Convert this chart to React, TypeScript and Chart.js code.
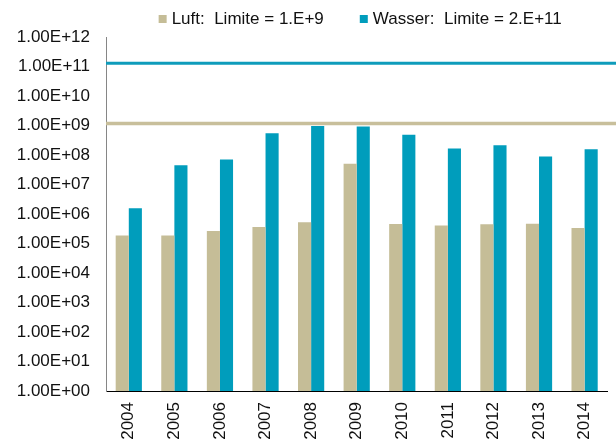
import React, { useEffect, useRef } from "react";
import { Chart, registerables } from "chart.js";

Chart.register(...registerables);

const YEARS = ["2004", "2005", "2006", "2007", "2008", "2009", "2010", "2011", "2012", "2013", "2014"];
const LUFT = [1.85e5, 1.85e5, 2.66e5, 3.63e5, 5.24e5, 5.04e7, 4.59e5, 4.08e5, 4.48e5, 4.7e5, 3.36e5];
const WASSER = [1.56e6, 4.45e7, 7.1e7, 5.5e8, 9.7e8, 9.3e8, 4.83e8, 1.67e8, 2.16e8, 8.97e7, 1.58e8];
const LIMIT_LUFT = 1.17e9;
const LIMIT_WASSER = 1.29e11;
const LABEL_LUFT = "Luft:  Limite = 1.E+9";
const LABEL_WASSER = "Wasser:  Limite = 2.E+11";
const Y_TICKS = [1, 1e1, 1e2, 1e3, 1e4, 1e5, 1e6, 1e7, 1e8, 1e9, 1e10, 1e11, 1e12];
const Y_TICK_LABELS = [
  "1.00E+00", "1.00E+01", "1.00E+02", "1.00E+03", "1.00E+04", "1.00E+05", "1.00E+06",
  "1.00E+07", "1.00E+08", "1.00E+09", "1.00E+10", "1.00E+11", "1.00E+12",
];

const TAN = "#C5BD97";
const TEAL = "#009DBC";
const TAN_LINE = "#C8BF9B";
const TEAL_LINE = "#0F9CBB";
const FONT = "'Liberation Sans', Arial, sans-serif";
const TEXT = "#111111";
const FONT_SIZE = 17;

const limitLines = {
  id: "limitLines",
  afterDatasetsDraw(chart: any) {
    const { ctx, chartArea, scales } = chart;
    const lines = [
      { v: LIMIT_LUFT, c: TAN_LINE, w: 3.5 },
      { v: LIMIT_WASSER, c: TEAL_LINE, w: 3 },
    ];
    ctx.save();
    lines.forEach((l) => {
      const y = scales.y.getPixelForValue(l.v);
      ctx.strokeStyle = l.c;
      ctx.lineWidth = l.w;
      ctx.beginPath();
      ctx.moveTo(chartArea.left, y);
      ctx.lineTo(chart.width, y);
      ctx.stroke();
    });
    ctx.restore();
  },
};

const customLegend = {
  id: "customLegend",
  afterDraw(chart: any) {
    const { ctx, chartArea } = chart;
    const box = 8;
    const gap = 5;
    const itemGap = 36;
    ctx.save();
    ctx.font = `${FONT_SIZE}px ${FONT}`;
    ctx.textBaseline = "middle";
    ctx.textAlign = "left";
    const items = chart.data.datasets.map((ds: any) => ({
      text: ds.label,
      color: ds.backgroundColor,
      w: box + gap + ctx.measureText(ds.label).width,
    }));
    const total = items.reduce((s: number, it: any) => s + it.w, 0) + itemGap * (items.length - 1);
    let x = (chartArea.left + chartArea.right) / 2 + 3.5 - total / 2;
    const y = 19;
    items.forEach((it: any) => {
      ctx.fillStyle = it.color;
      ctx.fillRect(x, y - box / 2, box, box);
      ctx.fillStyle = TEXT;
      ctx.fillText(it.text, x + box + gap, y + 0.5);
      x += it.w + itemGap;
    });
    ctx.restore();
  },
};

export default function App() {
  const ref = useRef<HTMLCanvasElement | null>(null);
  useEffect(() => {
    if (!ref.current) return;
    const chart = new Chart(ref.current, {
      type: "bar",
      data: {
        labels: YEARS,
        datasets: [
          { label: LABEL_LUFT, data: LUFT, backgroundColor: TAN, borderWidth: 0 },
          { label: LABEL_WASSER, data: WASSER, backgroundColor: TEAL, borderWidth: 0 },
        ],
      },
      options: {
        responsive: false,
        animation: false,
        devicePixelRatio: 1,
        layout: { padding: { top: 37, left: 0, right: 0, bottom: 0 } },
        datasets: { bar: { categoryPercentage: 0.575, barPercentage: 1 } },
        plugins: {
          legend: { display: false },
          tooltip: { enabled: false },
        },
        scales: {
          x: {
            grid: { display: false, drawTicks: false },
            border: { display: true, color: "#000000", width: 1 },
            ticks: {
              minRotation: 90,
              maxRotation: 90,
              padding: 11,
              color: TEXT,
              font: { family: FONT, size: FONT_SIZE },
            },
            afterFit: (s: any) => {
              s.height = 50;
            },
          },
          y: {
            type: "logarithmic",
            min: 1,
            max: 1e12,
            grid: { display: false, drawTicks: false },
            border: { display: true, color: "#868686", width: 1 },
            afterBuildTicks: (s: any) => {
              s.ticks = Y_TICKS.map((v) => ({ value: v }));
            },
            ticks: {
              padding: 16,
              color: TEXT,
              font: { family: FONT, size: FONT_SIZE },
              callback: (_v: any, i: number) => Y_TICK_LABELS[i],
            },
            afterFit: (s: any) => {
              s.width = 106;
            },
          },
        },
      },
      plugins: [limitLines, customLegend],
    });
    return () => chart.destroy();
  }, []);
  return (
    <div style={{ position: "absolute", left: 0, top: 0, width: 616, height: 441, background: "#fff" }}>
      <canvas ref={ref} width={616} height={441} style={{ display: "block", width: 616, height: 441 }} />
    </div>
  );
}
